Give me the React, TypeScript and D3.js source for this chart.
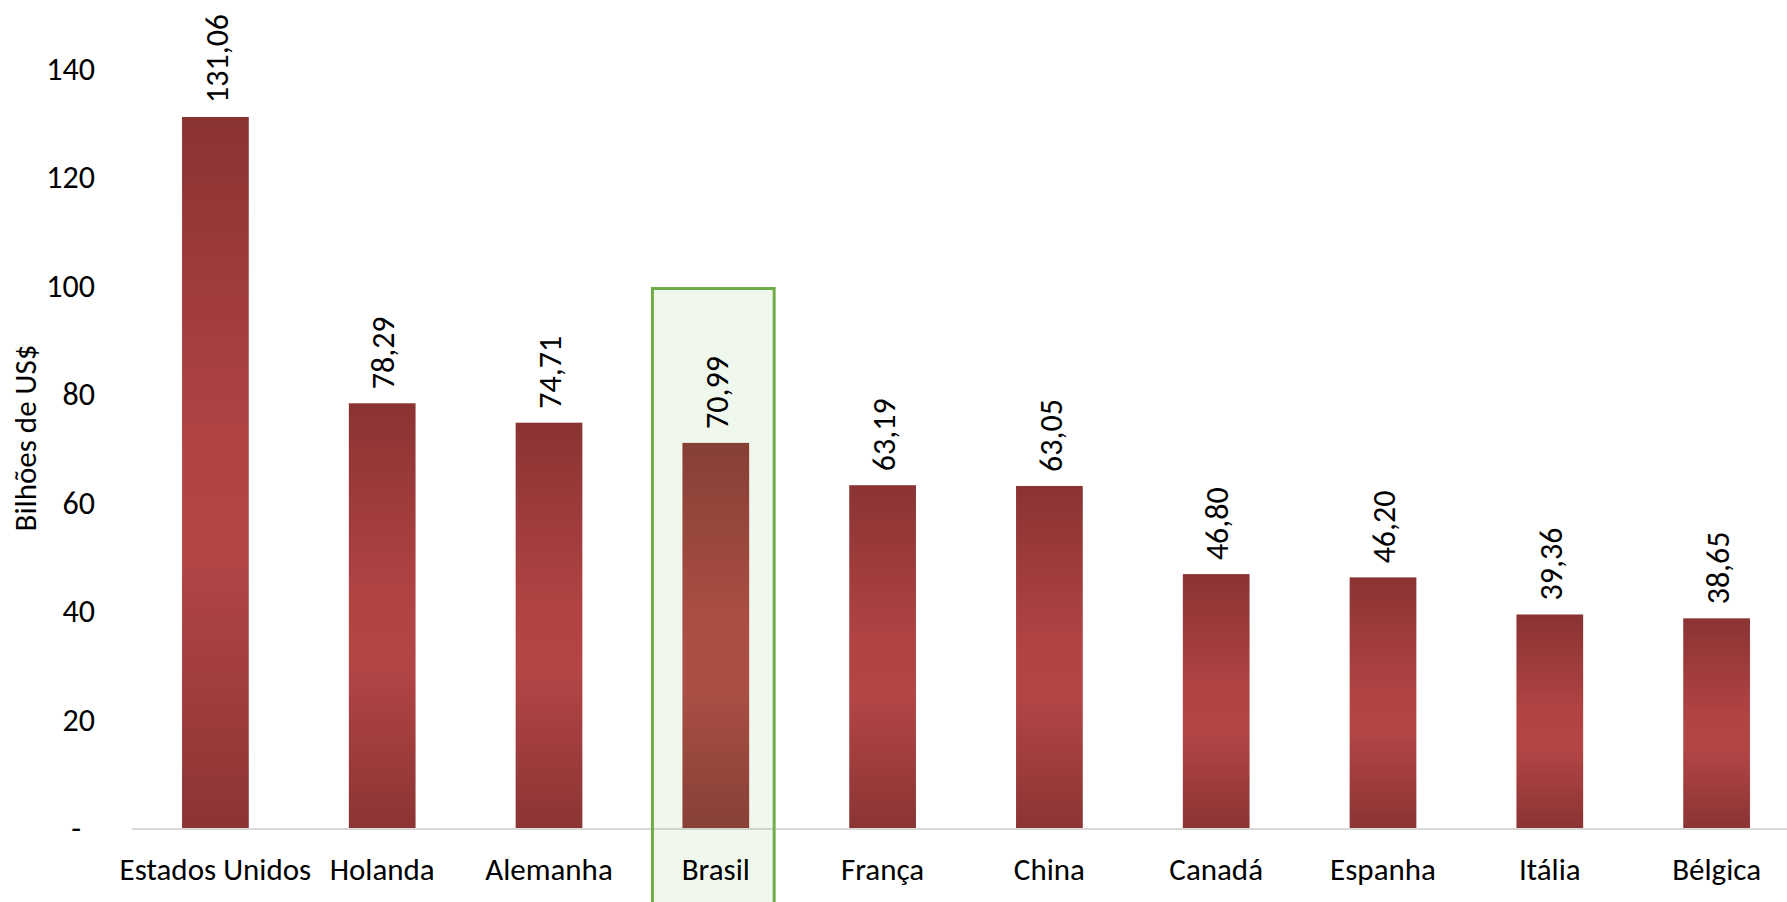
import React from "react";
import * as d3 from "d3";

const categories = ["Estados Unidos", "Holanda", "Alemanha", "Brasil", "França", "China", "Canadá", "Espanha", "Itália", "Bélgica"];
const values = [131.06, 78.29, 74.71, 70.99, 63.19, 63.05, 46.8, 46.2, 39.36, 38.65];
const yTicks = [0, 20, 40, 60, 80, 100, 120, 140];
const highlightCategory = "Brasil";
const highlightTop = 100;
const yTitle = "Bilhões de US$";

const W = 1787;
const H = 902;
const FONT = "Carlito, Calibri, Lato, 'Open Sans', sans-serif";

export default function App() {
  const x = d3.scaleBand<string>().domain(categories).range([132, 1800]).paddingInner(0.6).paddingOuter(0.3);
  const y = d3.scaleLinear().domain([0, 140]).range([828, 68.5]);
  const bw = x.bandwidth();
  const fmt = (v: number) => v.toFixed(2).replace(".", ",");
  const hx = (x(highlightCategory) ?? 0) - 30;
  const hw = bw + 55;

  return (
    <svg width={W} height={H} style={{ position: "absolute", left: 0, top: 0, background: "#fff" }} fontFamily={FONT}>
      <defs>
        <linearGradient id="barGrad" x1="0" y1="0" x2="0" y2="1">
          <stop offset="0%" stopColor="#8A3333" />
          <stop offset="45%" stopColor="#B14343" />
          <stop offset="62%" stopColor="#B34545" />
          <stop offset="100%" stopColor="#8B3434" />
        </linearGradient>
      </defs>
      {/* axis line */}
      <line x1={132} x2={W} y1={y(0) + 1} y2={y(0) + 1} stroke="#D9D9D9" strokeWidth={2} />
      {/* bars */}
      {categories.map((c, i) => (
        <rect key={c} x={x(c)} y={y(values[i])} width={bw} height={y(0) - y(values[i])} fill="url(#barGrad)" />
      ))}
      {/* highlight box */}
      <rect x={hx} y={y(highlightTop) + 3} width={hw} height={H} fill="rgba(112,173,71,0.1)" stroke="#70AD47" strokeWidth={3} />
      {/* value labels */}
      {categories.map((c, i) => {
        const cx = (x(c) ?? 0) + bw / 2 + 1;
        const ty = y(values[i]) - 14;
        return (
          <text key={c} transform={`translate(${cx},${ty}) rotate(-90)`} dy="0.35em" fontSize={32} fill="#000" textAnchor="start">
            {fmt(values[i])}
          </text>
        );
      })}
      {/* y ticks */}
      {yTicks.map((t) => (
        <text key={t} x={t === 0 ? 81 : 95} y={y(t)} dy="0.35em" fontSize={32} textAnchor="end" fill="#000">
          {t === 0 ? "-" : t}
        </text>
      ))}
      {/* y title */}
      <text transform={`translate(25,438) rotate(-90)`} dy="0.35em" fontSize={31} textAnchor="middle" fill="#000">
        {yTitle}
      </text>
      {/* category labels */}
      {categories.map((c) => (
        <text key={c} x={(x(c) ?? 0) + bw / 2} y={880} fontSize={31} textAnchor="middle" fill="#000">
          {c}
        </text>
      ))}
    </svg>
  );
}
